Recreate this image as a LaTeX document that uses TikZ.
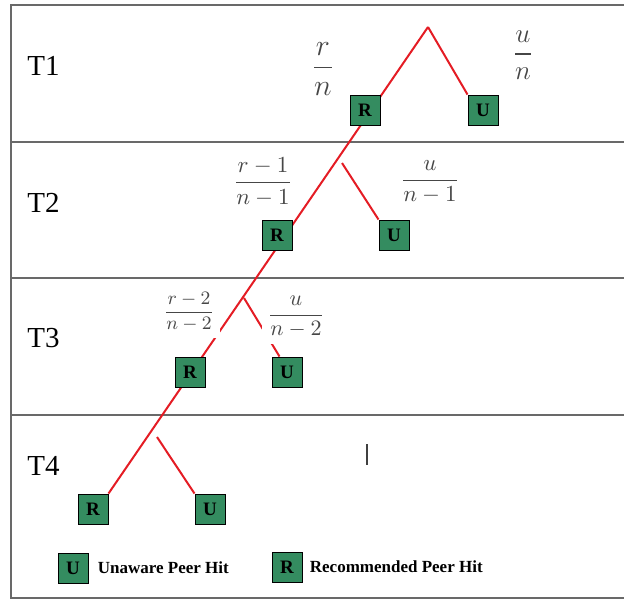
\RequirePackage{fix-cm}
\documentclass[tikz,border=0pt]{standalone}
\usepackage{amsmath}
\usepackage[no-math]{fontspec}
\setmainfont{Liberation Serif}
\usetikzlibrary{positioning}
\pgfdeclarelayer{back}
\pgfsetlayers{back,main}
\definecolor{hitgreen}{RGB}{52,140,96}
\definecolor{branchred}{RGB}{228,28,36}
\definecolor{rulegray}{RGB}{105,105,105}
\definecolor{fracgray}{RGB}{70,70,70}

\begin{document}
\begin{tikzpicture}[
  x=0.5pt, y=-0.5pt,
  hit/.style={draw=black, line width=0.5pt, fill=hitgreen, minimum size=15pt, inner sep=0pt,
    font=\fontsize{9.5}{10}\selectfont\bfseries},
  tree/.style={draw=branchred, line width=1pt},
  row/.style={draw=rulegray, line width=1pt},
  prob/.style={fill=white, text=fracgray, inner sep=3pt},
  tlab/.style={font=\fontsize{14.5}{17}\selectfont, anchor=base west, inner sep=0pt},
  key/.style={font=\fontsize{8.5}{10}\selectfont\bfseries, inner sep=0pt}
]
  \useasboundingbox (0,0) rectangle (624,601);

  \node[tlab] (t1) at (27,75) {T1};
  \node[tlab] (t2) at (27,212) {T2};
  \node[tlab] (t3) at (27,347) {T3};
  \node[tlab] (t4) at (27,475) {T4};

  \coordinate (top) at (428,27);
  \coordinate (b2) at (342,163);
  \coordinate (b3) at (244,298);
  \coordinate (b4) at (157,437);

  \node[hit] (r1) at (365,110) {R};
  \node[hit] (u1) at (483,110) {U};
  \node[hit] (r2) at (277,235) {R};
  \node[hit] (u2) at (394,235) {U};
  \node[hit] (r3) at (190,372) {R};
  \node[hit] (u3) at (287,372) {U};
  \node[hit] (r4) at (93,509) {R};
  \node[hit] (u4) at (210,509) {U};

  \node[prob] (pr1) at (323,69) {\fontsize{15}{18}\selectfont$\dfrac{r}{n}$};
  \node[prob] (pu1) at (523,55) {\fontsize{13.5}{16}\selectfont$\dfrac{u}{n}$};
  \node[prob] (pr2) at (263,182) {\fontsize{11.5}{14}\selectfont$\dfrac{r-1}{n-1}$};
  \node[prob] (pu2) at (430,182) {\fontsize{11.5}{14}\selectfont$\dfrac{u}{n-1}$};
  \node[prob] (pr3) at (189,312) {\fontsize{9.5}{11}\selectfont$\dfrac{r-2}{n-2}$};
  \node[prob] (pu3) at (296,317) {\fontsize{11}{13}\selectfont$\dfrac{u}{n-2}$};

  \node[hit] (ku) at (73,568) {U};
  \node[key, right=4.5pt of ku] (kut) {Unaware Peer Hit};
  \node[hit] (kr) at (287,567) {R};
  \node[key, right=3.5pt of kr] (krt) {Recommended Peer Hit};

  \draw[line width=0.7pt, black!75] (367,444) -- (367,465);

  \begin{pgfonlayer}{back}
    \draw[row] (624,5) -- (11,5) -- (11,598) -- (624,598);
    \foreach \y in {142,278,415}
      \draw[row] (11,\y) -- (624,\y);
    \draw[tree] (top) -- (r4.north east);
    \draw[tree] (top) -- (u1.north west);
    \draw[tree] (b2) -- (u2.north west);
    \draw[tree] (b3) -- ([xshift=4pt]u3.north west);
    \draw[tree] (b4) -- (u4.north west);
  \end{pgfonlayer}
\end{tikzpicture}
\end{document}
